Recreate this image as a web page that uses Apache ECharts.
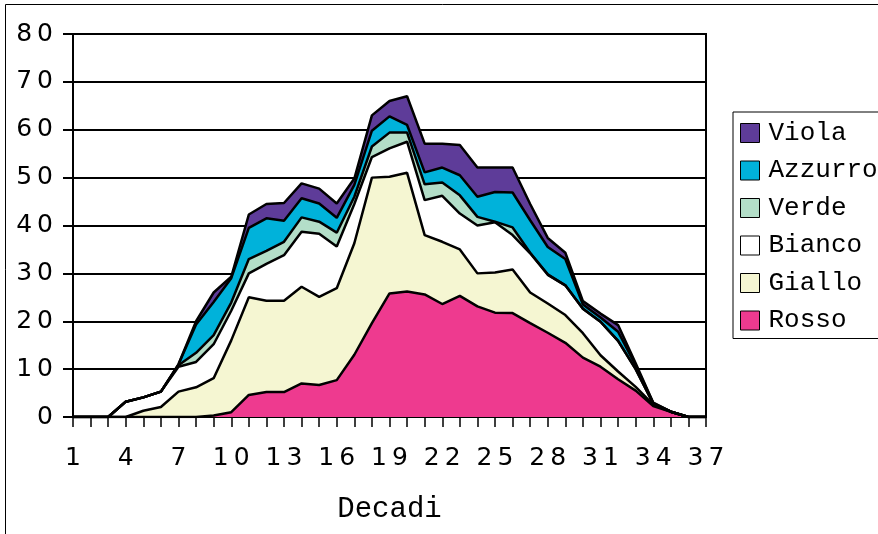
<!DOCTYPE html>
<html>
<head>
<meta charset="utf-8">
<script src="https://cdn.jsdelivr.net/npm/echarts@6/dist/echarts.min.js"></script>
<style>
html,body{margin:0;padding:0;background:#fff;}
#chart{width:878px;height:534px;}
</style>
</head>
<body>
<div id="chart"></div>
<script>
var categories = ['1','2','3','4','5','6','7','8','9','10','11','12','13','14','15','16','17','18','19','20','21','22','23','24','25','26','27','28','29','30','31','32','33','34','35','36','37'];
var rosso   = [0,0,0,0,0,0,0,0,0.3,1,4.6,5.2,5.2,7,6.7,7.7,13,19.6,25.8,26.2,25.6,23.6,25.3,23.1,21.8,21.7,19.6,17.6,15.5,12.4,10.5,7.9,5.5,2.3,1.1,0,0];
var giallo  = [0,0,0,0,1.3,2.1,5.3,6.2,7.8,15,20.4,19.1,19.1,20.2,18.4,19.2,23.3,30.4,24.4,24.8,12.4,13,9.7,6.9,8.4,9.1,6.4,6.1,5.8,5.1,2.4,1.6,0.8,0.3,0,0,0];
var bianco  = [0,0,0,3.2,2.8,3.2,5.2,5.3,7.1,6.2,5,7.7,9.5,11.5,13.2,8.7,8.2,4.3,5.9,6.5,7.3,9.6,7.5,10,10.5,7.2,8.2,6,6.2,5.1,7,6.4,3.7,0.2,0,0,0];
var verde   = [0,0,0,0,0,0,0.3,1.9,1.9,1.7,3,2.7,2.8,3,2.5,2.9,1.5,2.2,3.3,1.9,3.3,2.8,3.8,1.8,0.1,1.6,0.1,0.1,0,0,0,0,0,0,0,0,0];
var azzurro = [0,0,0,0,0,0,0.2,5.9,6.9,5.1,6.5,6.8,4.4,4,3.8,3.1,2.5,3.3,3.4,1.6,2.5,3.1,4.2,4.2,6.2,7.3,6.8,5.7,5.5,0.9,0.9,1.9,0.8,0.1,0,0,0];
var viola   = [0,0,0,0,0,0,0,0.7,2,0.3,2.8,3,3.7,3.1,3.1,3,1.3,3.2,3.2,6,6,5,6.3,6.1,5.1,5.2,3.4,1.9,1.3,0.7,0.8,1.4,0.4,0.1,0,0,0];
var seriesNames = ['Rosso','Giallo','Bianco','Verde','Azzurro','Viola'];
var legendOrder = ['Viola','Azzurro','Verde','Bianco','Giallo','Rosso'];
var yTicks = {min:0, max:80, interval:10};

var colors = {Rosso:'#EE3A8F', Giallo:'#F5F6D2', Bianco:'#FFFFFF', Verde:'#B3DEC8', Azzurro:'#00B2DA', Viola:'#5E3C99'};
var values = {Rosso:rosso, Giallo:giallo, Bianco:bianco, Verde:verde, Azzurro:azzurro, Viola:viola};

function spaced(v){ return String(v).split('').join('\u2009'); }

var chart = echarts.init(document.getElementById('chart'), null, {renderer:'canvas'});
var series = seriesNames.map(function(n){
  return {
    name:n, type:'line', stack:'total', data:values[n],
    symbol:'none', showSymbol:false, smooth:false,
    itemStyle:{color:colors[n]},
    lineStyle:{color:'#000', width:2.5},
    areaStyle:{color:colors[n], opacity:1},
    emphasis:{disabled:true}, animation:false
  };
});
chart.setOption({
  animation:false,
  backgroundColor:'#fff',
  graphic:[{type:'rect', shape:{x:5.5, y:4.5, width:1000, height:1000}, style:{fill:null, stroke:'#000', lineWidth:1}, silent:true}],
  grid:{left:73, right:172, top:34, bottom:117, show:true, borderColor:'#000', borderWidth:2, backgroundColor:'transparent'},
  legend:{
    data:legendOrder, orient:'vertical', left:733, top:112,
    icon:'rect', itemWidth:19, itemHeight:19, itemGap:11.5,
    padding:[8,8,5,7], borderColor:'#000', borderWidth:1, backgroundColor:'#fff',
    itemStyle:{borderColor:'#000', borderWidth:1},
    textStyle:{fontFamily:'Liberation Mono', fontSize:26, color:'#000', padding:[0,0,0,4]},
    selectedMode:false
  },
  xAxis:{
    type:'category', data:categories, boundaryGap:false,
    name:'Decadi', nameLocation:'middle', nameGap:78,
    nameTextStyle:{fontFamily:'Liberation Mono', fontSize:29, color:'#000'},
    axisLine:{show:true, lineStyle:{color:'#000', width:2}},
    axisTick:{show:true, interval:0, length:10, lineStyle:{color:'#000', width:1.5}},
    axisLabel:{interval:2, margin:29, fontFamily:'DejaVu Sans', fontSize:25, color:'#000', formatter:spaced},
    splitLine:{show:false}
  },
  yAxis:{
    type:'value', min:yTicks.min, max:yTicks.max, interval:yTicks.interval,
    axisLine:{show:true, lineStyle:{color:'#000', width:2}},
    axisTick:{show:true, length:10, lineStyle:{color:'#000', width:2}},
    axisLabel:{margin:20, fontFamily:'DejaVu Sans', fontSize:25, color:'#000', formatter:spaced},
    splitLine:{show:true, lineStyle:{color:'#000', width:2}}
  },
  series:series
});
</script>
</body>
</html>
